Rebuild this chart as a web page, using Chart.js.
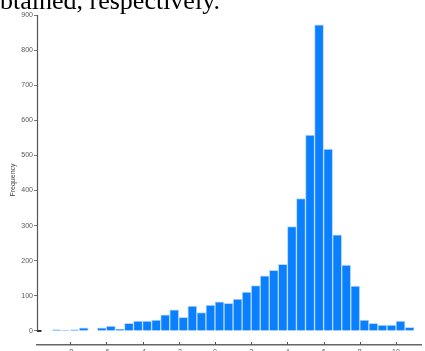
<!DOCTYPE html>
<html>
<head>
<meta charset="utf-8">
<script src="https://cdn.jsdelivr.net/npm/chart.js@4/dist/chart.umd.min.js"></script>
<style>
  html, body { margin: 0; padding: 0; background: #fff; overflow: hidden; }
  #wrap { position: relative; width: 425px; height: 351px; overflow: hidden; }
  #chart { position: absolute; left: 0; top: 0; }
  #caption {
    position: absolute; left: -13px; top: -12px;
    font-family: "Liberation Serif", "Times New Roman", serif;
    font-size: 26px; line-height: 26px; color: #000; white-space: nowrap;
  }
</style>
</head>
<body>
<div id="wrap">
  <canvas id="chart" width="425" height="351"></canvas>
  <div id="caption">obtained, respectively.</div>
</div>
<script>
// Left edge of each histogram bin (bin width 0.5)
const binStarts = [
  -9, -8.5, -8, -7.5, -7, -6.5, -6, -5.5, -5, -4.5,
  -4, -3.5, -3, -2.5, -2, -1.5, -1, -0.5, 0, 0.5,
  1, 1.5, 2, 2.5, 3, 3.5, 4, 4.5, 5, 5.5,
  6, 6.5, 7, 7.5, 8, 8.5, 9, 9.5, 10, 10.5
];
// Count in each bin
const frequencies = [
  3, 1, 3, 9, 0, 9, 14, 5, 22, 28,
  28, 31, 46, 60, 39, 71, 52, 74, 83, 79,
  91, 111, 129, 157, 173, 190, 297, 377, 558, 872,
  518, 274, 188, 128, 31, 22, 17, 17, 28, 10
];
const binWidth = 0.5;
const xTickValues = [-8, -6, -4, -2, 0, 2, 4, 6, 8, 10];
const yTickValues = [0, 100, 200, 300, 400, 500, 600, 700, 800, 900];

const points = binStarts.map((b, i) => ({ x: b + binWidth / 2, y: frequencies[i] }));

// Axis decorations: vertical axis line from 0 up to the top tick, a dark mark at 0,
// and short inward tick marks on the horizontal axis.
const axisDecor = {
  id: 'axisDecor',
  afterDraw(chart) {
    const { ctx, scales: { x, y } } = chart;
    const x0 = Math.round(x.left) + 0.5;
    const yTop = y.getPixelForValue(yTickValues[yTickValues.length - 1]);
    const yZero = y.getPixelForValue(0);
    ctx.save();
    ctx.strokeStyle = '#555';
    ctx.lineWidth = 1.2;
    ctx.beginPath();
    ctx.moveTo(x0, yTop);
    ctx.lineTo(x0, yZero + 1);
    ctx.stroke();
    ctx.strokeStyle = '#000';
    ctx.lineWidth = 1.6;
    ctx.beginPath();
    ctx.moveTo(x0, yZero);
    ctx.lineTo(x0 + 4, yZero);
    ctx.stroke();
    ctx.strokeStyle = '#555';
    ctx.lineWidth = 1;
    x.ticks.forEach(t => {
      const px = Math.round(x.getPixelForValue(t.value)) + 0.5;
      ctx.beginPath();
      ctx.moveTo(px, x.top - 3);
      ctx.lineTo(px, x.top);
      ctx.stroke();
    });
    ctx.restore();
  }
};

new Chart(document.getElementById('chart'), {
  type: 'bar',
  data: {
    datasets: [{
      label: 'Frequency',
      data: points,
      backgroundColor: '#0a80ff',
      borderColor: '#b9d9ff',
      borderWidth: 1,
      borderSkipped: 'start',
      barPercentage: 1,
      categoryPercentage: 1
    }]
  },
  options: {
    responsive: false,
    animation: false,
    layout: { padding: { left: 0, right: 4, top: 15, bottom: 0 } },
    plugins: { legend: { display: false }, tooltip: { enabled: false } },
    scales: {
      x: {
        type: 'linear',
        offset: false,
        min: -9.83,
        max: 11.38,
        afterBuildTicks: s => { s.ticks = xTickValues.map(v => ({ value: v })); },
        afterFit: s => { s.height = 6; },
        grid: { display: false, drawTicks: false, offset: false },
        border: { display: true, color: '#666', width: 1.5 },
        ticks: {
          padding: 3,
          color: '#555',
          font: { family: 'Liberation Sans', size: 7 },
          maxRotation: 0,
          autoSkip: false
        }
      },
      y: {
        min: -40,
        max: 900,
        afterBuildTicks: s => { s.ticks = yTickValues.map(v => ({ value: v })); },
        afterFit: s => { s.width = 37; },
        grid: { display: true, drawOnChartArea: false, drawTicks: true, tickLength: 3, color: '#777' },
        border: { display: false },
        ticks: {
          padding: 1,
          color: '#555',
          font: { family: 'Liberation Sans', size: 7 }
        },
        title: {
          display: true,
          text: 'Frequency',
          color: '#444',
          font: { family: 'Liberation Sans', size: 7 },
          padding: { top: 9, bottom: 0 }
        }
      }
    }
  },
  plugins: [axisDecor]
});
</script>
</body>
</html>
